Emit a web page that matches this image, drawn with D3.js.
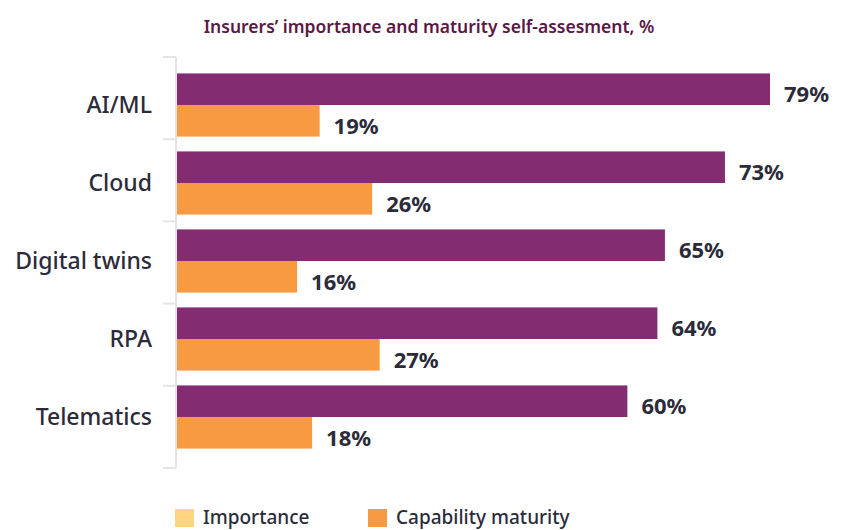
<!DOCTYPE html>
<html>
<head>
<meta charset="utf-8">
<script src="https://cdn.jsdelivr.net/npm/d3@7"></script>
<style>
  body { margin: 0; background: #fff; }
  svg { display: block; font-family: "Noto Sans", "Open Sans", sans-serif; }
</style>
</head>
<body>
<div id="chart"></div>
<script>
const categories = ["AI/ML", "Cloud", "Digital twins", "RPA", "Telematics"];
const importance = [79, 73, 65, 64, 60];
const maturity = [19, 26, 16, 27, 18];
const seriesNames = ["Importance", "Capability maturity"];

const purple = "#842C71";
const orange = "#F89A42";
const yellow = "#FFD67F";
const textColor = "#2B2B3A";

const width = 846, height = 530;

const svg = d3.select("#chart").append("svg")
    .attr("width", width)
    .attr("height", height);

// title
svg.append("text")
    .attr("x", 429)
    .attr("y", 33)
    .attr("text-anchor", "middle")
    .attr("fill", "#5A1846")
    .style("font-size", "17.5px")
    .style("font-weight", 600)
    .text("Insurers\u2019 importance and maturity self-assesment, %");

const x = d3.scaleLinear().domain([0, 79]).range([177, 770]);
const y = d3.scaleBand().domain(categories).range([66, 456])
    .paddingInner(0.19).paddingOuter(0.095);

// axis line + ticks
const axisTicks = d3.range(6).map(i => 57 + i * (468 - 57) / 5);
svg.append("line")
    .attr("x1", 176).attr("x2", 176)
    .attr("y1", 57).attr("y2", 468)
    .attr("stroke", "#E4E4E4")
    .attr("stroke-width", 2);
svg.selectAll(".tick")
    .data(axisTicks)
    .enter().append("line")
    .attr("class", "tick")
    .attr("x1", 163).attr("x2", 176)
    .attr("y1", d => d).attr("y2", d => d)
    .attr("stroke", "#E4E4E4")
    .attr("stroke-width", 2);

// category labels
svg.selectAll(".cat")
    .data(categories)
    .enter().append("text")
    .attr("class", "cat")
    .attr("x", 152)
    .attr("y", d => y(d) + y.bandwidth() / 2)
    .attr("dy", "0.35em")
    .attr("text-anchor", "end")
    .attr("fill", textColor)
    .style("font-size", "23px")
    .style("font-weight", 500)
    .text(d => d);

const barH = y.bandwidth() / 2;
const rows = categories.map((c, i) => ({c, imp: importance[i], mat: maturity[i]}));

const g = svg.selectAll(".row").data(rows).enter().append("g").attr("class", "row");

g.append("rect")
    .attr("x", x(0))
    .attr("y", d => y(d.c))
    .attr("width", d => x(d.imp) - x(0))
    .attr("height", barH)
    .attr("fill", purple);

g.append("rect")
    .attr("x", x(0))
    .attr("y", d => y(d.c) + barH)
    .attr("width", d => x(d.mat) - x(0))
    .attr("height", barH)
    .attr("fill", orange);

g.append("text")
    .attr("x", d => x(d.imp) + 14)
    .attr("y", d => y(d.c) + barH - 3)
    .attr("fill", textColor)
    .style("font-size", "22px")
    .style("font-weight", 700)
    .text(d => d.imp + "%");

g.append("text")
    .attr("x", d => x(d.mat) + 14)
    .attr("y", d => y(d.c) + 2 * barH - 3)
    .attr("fill", textColor)
    .style("font-size", "22px")
    .style("font-weight", 700)
    .text(d => d.mat + "%");

// legend
const legendX = [175, 368];
const legend = svg.selectAll(".legend")
    .data(seriesNames)
    .enter().append("g")
    .attr("class", "legend")
    .attr("transform", (d, i) => `translate(${legendX[i]},509)`);
legend.append("rect")
    .attr("width", 19)
    .attr("height", 18)
    .attr("fill", (d, i) => i === 0 ? yellow : orange);
legend.append("text")
    .attr("x", 28)
    .attr("y", 15)
    .attr("fill", textColor)
    .style("font-size", "19px")
    .style("font-weight", 500)
    .text(d => d);
</script>
</body>
</html>
